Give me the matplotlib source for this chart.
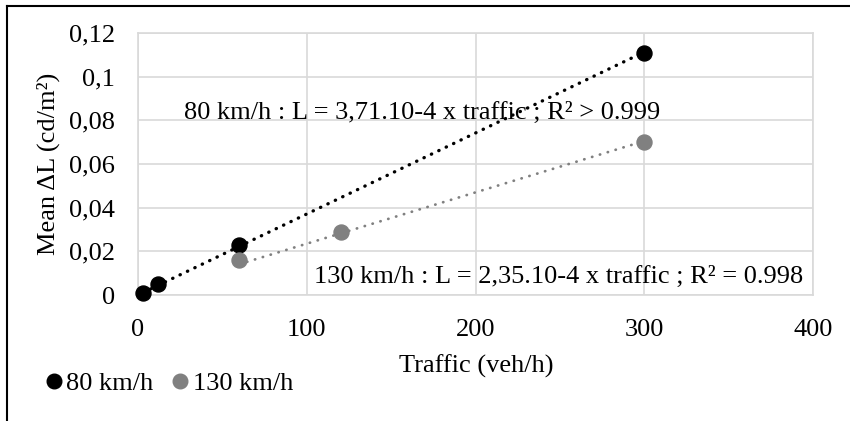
import numpy as np
import matplotlib.pyplot as plt
from matplotlib.lines import Line2D

# data
traffic_80 = [3, 12, 60, 300]
dL_80 = [0.001, 0.005, 0.023, 0.111]
traffic_130 = [60, 120, 300]
dL_130 = [0.016, 0.029, 0.070]

# trendline slopes given in the chart labels
slope_80 = 3.71e-4
slope_130 = 2.35e-4

y_ticks = [0, 0.02, 0.04, 0.06, 0.08, 0.1, 0.12]
y_tick_labels = ["0", "0,02", "0,04", "0,06", "0,08", "0,1", "0,12"]
x_ticks = [0, 100, 200, 300, 400]

plt.rcParams['font.family'] = ['Liberation Serif', 'DejaVu Serif']
fs = 19
W, H = 850, 421
fig = plt.figure(figsize=(W / 100, H / 100), dpi=100)

ax = fig.add_axes([138 / W, (H - 295) / H, 675 / W, 262 / H])
ax.set_xlim(0, 400)
ax.set_ylim(0, 0.12)
ax.set_xticks(x_ticks)
ax.set_yticks(y_ticks)
ax.set_yticklabels(y_tick_labels)
ax.tick_params(length=0, labelsize=fs, colors='black')
ax.tick_params(axis='y', pad=16.5)
ax.tick_params(axis='x', pad=17)
ax.grid(True, color='#d9d9d9', linewidth=1.2)
ax.set_axisbelow(True)
for s in ax.spines.values():
    s.set_color('#d9d9d9')
    s.set_linewidth(1.2)

# trendlines (round dots)
x80 = np.array([min(traffic_80), max(traffic_80)])
ax.plot(x80, slope_80 * x80, linestyle=(0, (0.1, 2.36)), color='black', linewidth=2.4,
        dash_capstyle='round')
x130 = np.array([min(traffic_130), max(traffic_130)])
ax.plot(x130, slope_130 * x130, linestyle=(0, (0.1, 2.85)), color='#808080', linewidth=2.0,
        dash_capstyle='round')

ax.plot(traffic_80, dL_80, 'o', color='black', markersize=10.8, clip_on=False, zorder=5)
ax.plot(traffic_130, dL_130, 'o', color='#808080', markersize=10.8, clip_on=False, zorder=5)

ax.text(27.5, 0.0835, "80 km/h : L = 3,71.10-4 x traffic ; R² > 0.999", fontsize=fs,
        va='center', ha='left')
ax.text(104, 0.0083, "130 km/h : L = 2,35.10-4 x traffic ; R² = 0.998", fontsize=fs,
        va='center', ha='left')

fig.text(48 / W, 1 - 164 / H, "Mean ΔL (cd/m²)", rotation=90, fontsize=fs,
         ha='center', va='center')
fig.text(476 / W, 1 - 366 / H, "Traffic (veh/h)", fontsize=fs, ha='center', va='center')

# legend
handles = [Line2D([], [], marker='o', color='black', linestyle='none', markersize=10.5),
           Line2D([], [], marker='o', color='#808080', linestyle='none', markersize=10.5)]
fig.legend(handles, ["80 km/h", "130 km/h"], loc='center left',
           bbox_to_anchor=(47 / W, 1 - 383 / H), ncol=2, frameon=False, fontsize=fs,
           handlelength=0.5, handletextpad=0.21, columnspacing=0.79, borderaxespad=0,
           borderpad=0)

# outer chart border (only left and top visible in the crop)
fig.add_artist(Line2D([7 / W, 7 / W], [0, 1 - 6 / H], color='black', linewidth=1.5))
fig.add_artist(Line2D([7 / W, 1], [1 - 6 / H, 1 - 6 / H], color='black', linewidth=1.5))

fig.savefig("out.png", dpi=100)
